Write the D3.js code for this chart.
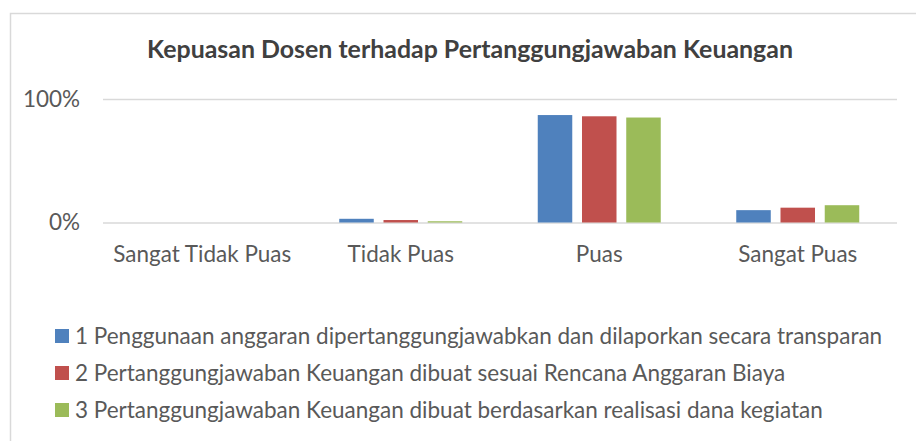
<!DOCTYPE html>
<html>
<head>
<meta charset="utf-8">
<script src="https://cdn.jsdelivr.net/npm/d3@7/dist/d3.min.js"></script>
<style>
  html, body { margin: 0; padding: 0; background: #fff; }
  svg { display: block; font-family: Lato, "Open Sans", sans-serif; }
</style>
</head>
<body>
<svg id="chart" width="916" height="441"></svg>
<script>
// Survey categories (x axis)
const categories = ["Sangat Tidak Puas", "Tidak Puas", "Puas", "Sangat Puas"];

// One array per statement, share of respondents per category
const series1 = [0, 0.03, 0.87, 0.10];
const series2 = [0, 0.02, 0.86, 0.12];
const series3 = [0, 0.01, 0.85, 0.14];

const seriesNames = [
  "1 Penggunaan anggaran dipertanggungjawabkan dan dilaporkan secara transparan",
  "2 Pertanggungjawaban Keuangan dibuat sesuai Rencana Anggaran Biaya",
  "3 Pertanggungjawaban Keuangan dibuat berdasarkan realisasi dana kegiatan"
];
const seriesColors = ["#4f81bd", "#c0504d", "#9bbb59"];
const yTicks = [0, 1];

const chartTitle = "Kepuasan Dosen terhadap Pertanggungjawaban Keuangan";

const svg = d3.select("#chart");
const plot = { left: 103, right: 897, top: 99, bottom: 222.5 };

// Fit a text element's font size so its natural width equals the target width
function fitWidth(sel, target) {
  const base = parseFloat(sel.attr("font-size"));
  const w = sel.node().getComputedTextLength();
  sel.attr("font-size", (base * target / w).toFixed(2));
}

// Outer chart frame
svg.append("rect")
  .attr("x", 10.5).attr("y", 13.5)
  .attr("width", 930).attr("height", 440)
  .attr("fill", "#fff")
  .attr("stroke", "#d9d9d9").attr("stroke-width", 1.5);

// Title
const title = svg.append("text")
  .attr("x", 470).attr("y", 58)
  .attr("text-anchor", "middle")
  .attr("font-size", 20).attr("font-weight", "bold")
  .attr("fill", "#404040")
  .text(chartTitle);
fitWidth(title, 646);

const x0 = d3.scaleBand()
  .domain(categories)
  .range([plot.left, plot.right])
  .paddingInner(0).paddingOuter(0);

const groupPad = 37.75;
const x1 = d3.scaleBand()
  .domain([0, 1, 2])
  .range([groupPad, x0.bandwidth() - groupPad])
  .paddingInner(0.22);

const y = d3.scaleLinear().domain([0, 1]).range([plot.bottom, plot.top]);

// Gridlines and y axis labels
const yAxis = d3.axisLeft(y)
  .tickValues(yTicks)
  .tickSize(-(plot.right - plot.left))
  .tickPadding(23)
  .tickFormat(d3.format(".0%"));

const gy = svg.append("g")
  .attr("transform", `translate(${plot.left},0)`)
  .call(yAxis);
gy.select(".domain").remove();
gy.selectAll(".tick line").attr("stroke", "#d9d9d9").attr("stroke-width", 1.5);
gy.selectAll(".tick text")
  .attr("font-size", 18).attr("fill", "#595959")
  .attr("font-family", "Lato, 'Open Sans', sans-serif");

// Bars
const allSeries = [series1, series2, series3];
allSeries.forEach((vals, si) => {
  svg.append("g")
    .selectAll("rect")
    .data(vals)
    .join("rect")
    .attr("x", (d, i) => x0(categories[i]) + x1(si))
    .attr("width", x1.bandwidth())
    .attr("y", d => y(d))
    .attr("height", d => y(0) - y(d))
    .attr("fill", seriesColors[si]);
});

// Category labels
const xAxis = d3.axisBottom(x0).tickSize(0).tickPadding(24);
const gx = svg.append("g")
  .attr("transform", `translate(0,${plot.bottom})`)
  .call(xAxis);
gx.select(".domain").remove();
gx.selectAll(".tick text")
  .attr("font-size", 18).attr("fill", "#595959")
  .attr("font-family", "Lato, 'Open Sans', sans-serif");
const firstLabel = gx.select(".tick text");
const catSize0 = parseFloat(firstLabel.attr("font-size"));
fitWidth(firstLabel, 178);
const catSize = firstLabel.attr("font-size");
gx.selectAll(".tick text").attr("font-size", catSize);
gy.selectAll(".tick text").attr("font-size", catSize);

// Legend
const legend = svg.append("g");
const rowY = [336, 373, 410];
const items = legend.selectAll("g")
  .data(seriesNames)
  .join("g")
  .attr("transform", (d, i) => `translate(55,${rowY[i]})`);
items.append("rect")
  .attr("x", 0).attr("y", -7)
  .attr("width", 14).attr("height", 14)
  .attr("fill", (d, i) => seriesColors[i]);
const legendTexts = items.append("text")
  .attr("x", 20).attr("y", 0)
  .attr("dy", "0.35em")
  .attr("font-size", 19).attr("fill", "#595959")
  .text(d => d);
const firstLegend = d3.select(legendTexts.nodes()[0]);
fitWidth(firstLegend, 807);
legendTexts.attr("font-size", firstLegend.attr("font-size"));
</script>
</body>
</html>
